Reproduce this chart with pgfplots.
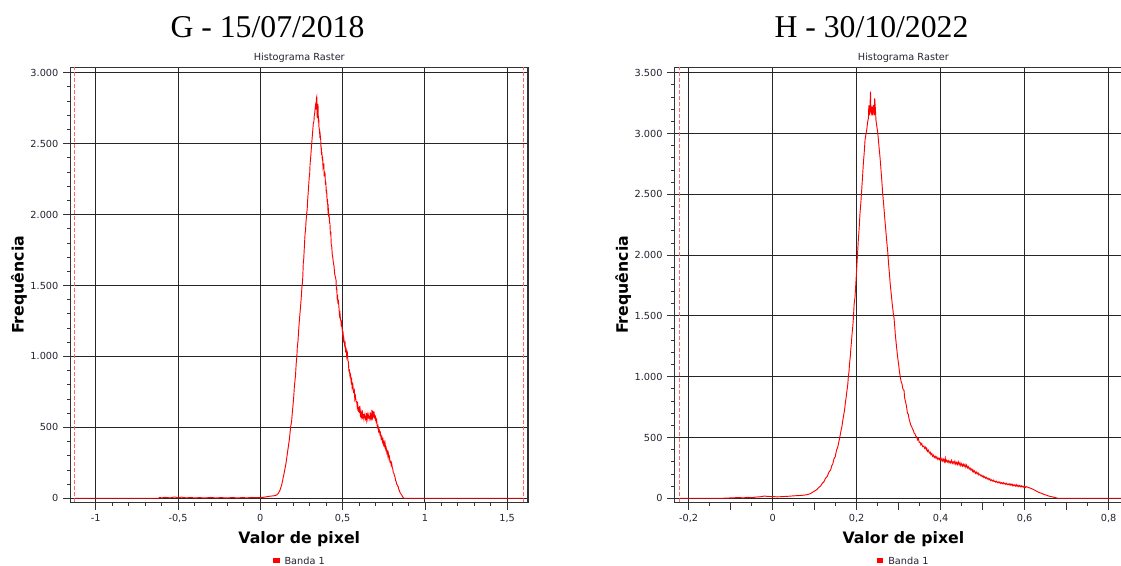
\documentclass[border=0pt]{standalone}
\usepackage{fontspec}
\setmainfont{DejaVu Sans}
\newfontfamily\titlefont{Liberation Serif}
\usepackage{pgfplots}
\pgfplotsset{compat=1.18}
\usepackage{pgfplotstable}

\definecolor{ticktxt}{RGB}{35,35,50}

\pgfplotstableread{
v f
-1.1276 0
-0.62 0
-0.61 6
-0.60 2
-0.58 7
-0.55 3
-0.52 9
-0.50 4
-0.48 8
-0.45 3
-0.42 6
-0.40 2
-0.37 5
-0.34 2
-0.30 6
-0.27 2
-0.24 5
-0.20 2
-0.17 6
-0.14 2
-0.11 5
-0.08 3
-0.05 6
-0.02 4
0.00 5
0.02 7
0.04 11
0.06 15
0.08 17
0.09 20
0.10 23
0.11 35
0.12 59
0.13 95
0.136 129
0.146 185
0.156 247
0.166 330
0.176 411
0.185 510
0.190 540
0.194 599
0.199 660
0.203 715
0.207 790
0.211 834
0.214 870
0.218 950
0.222 1000
0.225 1069
0.229 1110
0.233 1185
0.237 1250
0.241 1304
0.245 1360
0.249 1420
0.253 1492
0.256 1520
0.258 1560
0.261 1656
0.264 1690
0.267 1760
0.272 1868
0.275 1890
0.277 1940
0.282 2009
0.285 2040
0.287 2090
0.292 2173
0.297 2260
0.300 2290
0.302 2349
0.307 2420
0.312 2497
0.317 2570
0.322 2643
0.326 2660
0.328 2700
0.331 2720
0.334 2760
0.338 2790
0.340 2740
0.341 2820
0.343 2830
0.345 2700
0.347 2680
0.349 2780
0.351 2760
0.353 2650
0.355 2680
0.356 2620
0.360 2590
0.362 2540
0.364 2560
0.367 2526
0.369 2460
0.370 2480
0.372 2420
0.374 2440
0.377 2380
0.379 2408
0.381 2330
0.383 2340
0.386 2360
0.388 2270
0.390 2300
0.393 2291
0.396 2210
0.398 2230
0.401 2150
0.403 2173
0.406 2090
0.408 2110
0.411 2030
0.413 2044
0.416 1980
0.418 2000
0.421 1940
0.423 1938
0.426 1860
0.428 1880
0.431 1790
0.434 1773
0.437 1720
0.440 1700
0.444 1660
0.448 1633
0.452 1580
0.456 1560
0.460 1539
0.462 1470
0.464 1492
0.467 1410
0.470 1420
0.472 1370
0.474 1398
0.478 1340
0.481 1290
0.484 1304
0.487 1260
0.490 1250
0.492 1210
0.494 1230
0.498 1186
0.501 1150
0.503 1160
0.506 1100
0.508 1120
0.512 1080
0.515 1093
0.518 1040
0.522 1050
0.525 1000
0.529 1022
0.532 970
0.535 960
0.538 900
0.541 904
0.545 860
0.548 870
0.552 820
0.555 834
0.558 780
0.562 800
0.566 750
0.571 763
0.574 700
0.578 720
0.582 680
0.586 681
0.589 640
0.592 660
0.596 620
0.600 634
0.603 600
0.605 650
0.608 590
0.610 600
0.613 575
0.616 599
0.618 565
0.620 620
0.623 570
0.626 580
0.629 560
0.632 595
0.634 565
0.636 587
0.639 560
0.642 570
0.644 555
0.646 600
0.648 565
0.650 585
0.653 560
0.656 587
0.659 570
0.662 575
0.665 560
0.668 605
0.670 570
0.672 580
0.675 565
0.677 599
0.680 575
0.683 620
0.685 580
0.687 590
0.689 570
0.691 610
0.693 575
0.695 580
0.698 560
0.700 570
0.704 540
0.707 552
0.711 500
0.715 510
0.719 470
0.723 481
0.727 450
0.730 460
0.734 420
0.738 434
0.742 400
0.745 415
0.749 380
0.752 395
0.755 370
0.758 388
0.762 345
0.765 355
0.769 320
0.772 330
0.775 300
0.778 317
0.782 280
0.785 290
0.788 255
0.792 260
0.795 235
0.798 247
0.802 215
0.805 205
0.808 180
0.812 175
0.815 160
0.818 152
0.822 125
0.825 120
0.828 100
0.832 95
0.835 85
0.838 82
0.842 60
0.845 55
0.849 40
0.852 35
0.859 23
0.866 8
0.873 0
1.5996 0
}\bandaG

\pgfplotstableread{
v f
-0.2224 0
-0.12 0
-0.10 3
-0.08 6
-0.07 3
-0.06 8
-0.05 5
-0.04 10
-0.03 12
-0.02 18
-0.01 15
0.00 14
0.01 12
0.02 13
0.03 15
0.04 17
0.05 20
0.06 22
0.07 24
0.08 28
0.09 38
0.095 50
0.100 60
0.106 74
0.110 90
0.114 100
0.118 122
0.122 136
0.126 165
0.130 180
0.134 215
0.138 232
0.141 270
0.143 280
0.146 325
0.149 341
0.152 395
0.155 420
0.158 470
0.160 504
0.163 560
0.165 590
0.167 640
0.169 681
0.171 720
0.173 780
0.175 830
0.177 886
0.179 940
0.180 990
0.182 1050
0.183 1104
0.185 1170
0.186 1220
0.188 1300
0.189 1349
0.191 1420
0.192 1470
0.194 1594
0.196 1650
0.198 1760
0.200 1880
0.202 2000
0.204 2124
0.206 2220
0.208 2344
0.210 2430
0.212 2535
0.214 2640
0.216 2755
0.218 2840
0.220 2947
0.222 2990
0.224 3029
0.226 3090
0.228 3125
0.229 3230
0.230 3207
0.231 3150
0.233 3344
0.234 3180
0.235 3166
0.237 3220
0.238 3150
0.240 3234
0.242 3150
0.243 3289
0.245 3180
0.246 3111
0.248 3060
0.250 3015
0.252 2940
0.254 2864
0.256 2790
0.258 2700
0.260 2610
0.262 2508
0.264 2430
0.266 2344
0.268 2260
0.270 2179
0.272 2100
0.274 2028
0.276 1930
0.278 1850
0.280 1760
0.283 1658
0.285 1590
0.286 1560
0.288 1500
0.289 1485
0.291 1400
0.292 1350
0.294 1280
0.296 1213
0.298 1150
0.300 1100
0.302 1040
0.304 995
0.306 960
0.308 940
0.310 900
0.313 886
0.314 830
0.316 800
0.318 770
0.319 749
0.321 700
0.323 690
0.325 650
0.327 627
0.329 600
0.331 590
0.333 570
0.335 559
0.337 535
0.339 530
0.341 510
0.343 504
0.345 480
0.347 490
0.349 460
0.351 460
0.353 440
0.355 450
0.357 425
0.360 430
0.362 410
0.364 420
0.366 400
0.367 409
0.369 385
0.371 395
0.373 372
0.375 380
0.377 358
0.379 368
0.381 345
0.383 355
0.385 335
0.387 345
0.389 328
0.391 341
0.393 320
0.395 330
0.397 318
0.399 335
0.401 310
0.403 327
0.405 305
0.407 320
0.409 300
0.411 330
0.412 300
0.414 313
0.416 298
0.418 310
0.420 292
0.422 305
0.424 290
0.426 312
0.428 288
0.430 300
0.432 285
0.434 305
0.436 280
0.438 295
0.440 278
0.442 300
0.444 275
0.446 292
0.448 268
0.450 285
0.452 265
0.454 280
0.456 262
0.458 278
0.460 255
0.462 273
0.464 250
0.466 260
0.468 240
0.470 250
0.472 232
0.474 240
0.476 222
0.477 232
0.479 215
0.481 225
0.483 205
0.485 215
0.487 200
0.489 210
0.491 192
0.493 199
0.495 185
0.497 190
0.499 178
0.501 185
0.503 170
0.505 178
0.507 165
0.509 172
0.511 158
0.513 165
0.515 152
0.517 160
0.519 145
0.521 152
0.523 142
0.525 150
0.527 137
0.529 142
0.531 133
0.533 140
0.535 128
0.537 135
0.539 126
0.541 134
0.543 122
0.545 128
0.547 120
0.549 130
0.551 118
0.553 124
0.555 115
0.557 123
0.559 112
0.561 118
0.563 110
0.565 120
0.567 108
0.569 115
0.571 105
0.572 114
0.574 103
0.576 110
0.578 100
0.580 112
0.582 98
0.584 107
0.586 96
0.588 106
0.590 95
0.592 102
0.594 93
0.596 100
0.598 90
0.600 98
0.602 88
0.604 95
0.608 90
0.612 85
0.616 80
0.620 74
0.625 65
0.630 55
0.636 46
0.642 38
0.647 30
0.651 27
0.656 20
0.661 15
0.667 11
0.673 5
0.679 0
0.86 0
}\bandaH

\pgfplotsset{
  every axis title shift=0pt,
  histo/.style={
    scale only axis,
    width=343.1pt, height=326.1pt,
    anchor=south west,
    axis line style={draw=black!80, line width=0.8pt},
    grid=major,
    major grid style={black!85, line width=0.7pt},
    tick align=outside, tick pos=left,
    major tick length=5.6pt, minor tick length=2.6pt,
    every tick/.style={black!80, line width=0.6pt},
    minor y tick num=4,
    tick label style={font=\fontsize{7.3}{8.5}\selectfont, color=ticktxt},
    /pgf/number format/use comma,
    /pgf/number format/1000 sep={.},
    /pgf/number format/assume math mode=true,
    scaled ticks=false,
    title={Histograma Raster},
    title style={at={(axis description cs:0.5,1.0156)}, anchor=base, inner sep=0pt,
      font=\fontsize{7.3}{8.5}\selectfont, color=ticktxt},
    xlabel={Valor de pixel},
    xlabel style={at={(axis description cs:0.5,-0.0943)}, anchor=base, inner sep=0pt,
      font=\fontsize{11.8}{14}\selectfont\bfseries},
    ylabel={Frequência},
    ylabel style={at={(axis description cs:-0.1126,0.5)}, anchor=center, inner sep=0pt,
      font=\fontsize{11.8}{14}\selectfont\bfseries},
  }
}

\begin{document}
\begin{tikzpicture}
\useasboundingbox (0,0) rectangle (840.75pt,-423.75pt);

% ---------------- G ----------------
\begin{axis}[histo,
  at={(52.9pt,-376.7pt)},
  xmin=-1.1531, xmax=1.6264, ymin=-28.2, ymax=3036.7,
  xtick={-1,-0.5,0,0.5,1,1.5},
  ytick={0,500,1000,1500,2000,2500,3000},
  minor x tick num=4,
]
\addplot[red!60, line width=0.75pt, dash pattern=on 3pt off 1.5pt] coordinates {(-1.1276,-28.2) (-1.1276,3036.7)};
\addplot[red!60, line width=0.75pt, dash pattern=on 3pt off 1.5pt] coordinates {(1.5996,-28.2) (1.5996,3036.7)};
\addplot[red, line width=0.7pt, no marks, sharp plot] table[x=v, y=f] {\bandaG};
\end{axis}

% ---------------- H ----------------
\begin{axis}[histo,
  at={(506.0pt,-376.7pt)},
  xmin=-0.2333, xmax=0.8560, ymin=-32.9, ymax=3542.8,
  xtick={-0.2,0,0.2,0.4,0.6,0.8},
  ytick={0,500,1000,1500,2000,2500,3000,3500},
  minor x tick num=3,
  extra x ticks={-0.1,0.1,0.3,0.5,0.7},
  extra x tick labels={},
  extra x tick style={grid=none},
]
\addplot[red!60, line width=0.75pt, dash pattern=on 3pt off 1.5pt] coordinates {(-0.2224,-32.9) (-0.2224,3542.8)};
\addplot[red, line width=0.7pt, no marks, sharp plot] table[x=v, y=f] {\bandaH};
\end{axis}

% titles
\node[anchor=base, inner sep=0pt, font=\titlefont\fontsize{23.8}{28}\selectfont] at (200.6pt,-28.3pt) {G - 15/07/2018};
\node[anchor=base, inner sep=0pt, font=\titlefont\fontsize{23.8}{28}\selectfont] at (653.6pt,-28.3pt) {H - 30/10/2022};

% legends
\fill[red] (205.0pt,-418.3pt) rectangle (210.0pt,-422.6pt);
\node[anchor=base west, inner sep=0pt, font=\fontsize{7.3}{8.5}\selectfont, color=ticktxt] at (213.2pt,-423.3pt) {Banda 1};
\fill[red] (657.8pt,-418.3pt) rectangle (662.6pt,-422.6pt);
\node[anchor=base west, inner sep=0pt, font=\fontsize{7.3}{8.5}\selectfont, color=ticktxt] at (666.0pt,-423.3pt) {Banda 1};
\end{tikzpicture}
\end{document}
